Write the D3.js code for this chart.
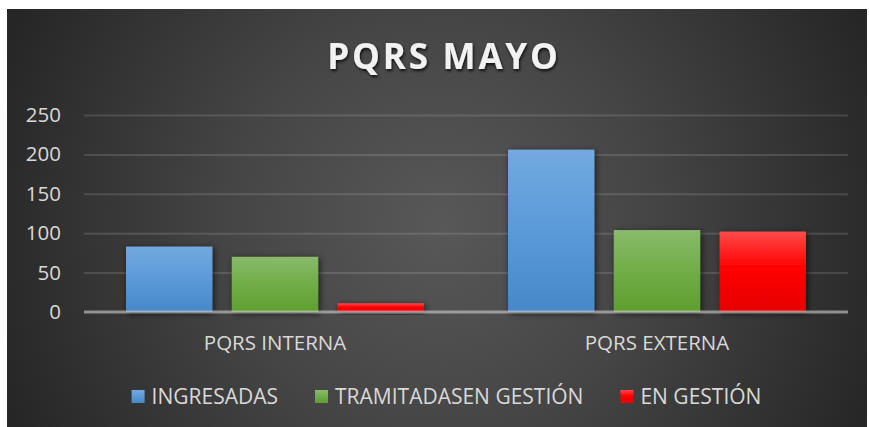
<!DOCTYPE html>
<html><head><meta charset="utf-8">
<script src="https://cdn.jsdelivr.net/npm/d3@7"></script>
<style>html,body{margin:0;padding:0;background:#fff;}svg{display:block;}</style>
</head><body>
<script>
const categories = ["PQRS INTERNA", "PQRS EXTERNA"];
const seriesNames = ["INGRESADAS", "TRAMITADASEN GESTIÓN", "EN GESTIÓN"];
const ingresadas = [83, 206];
const tramitadas = [70, 104];
const enGestion = [11, 102];
const yTicks = [0, 50, 100, 150, 200, 250];
const titleText = "PQRS MAYO";

const seriesValues = [ingresadas, tramitadas, enGestion];
const W = 869, H = 427;
const font = "'Open Sans', sans-serif";
const txtCol = "#d9d9d9";

const svg = d3.select("body").append("svg").attr("width", W).attr("height", H);
const defs = svg.append("defs");

// background gradient
const bg = defs.append("radialGradient").attr("id", "bg").attr("gradientUnits", "userSpaceOnUse")
  .attr("cx", 440).attr("cy", 225).attr("r", 470);
bg.append("stop").attr("offset", 0).attr("stop-color", "#585858");
bg.append("stop").attr("offset", 0.45).attr("stop-color", "#454545");
bg.append("stop").attr("offset", 1).attr("stop-color", "#262626");

const grads = [
  [["0", "#73a9df"], ["0.5", "#5a9ad9"], ["1", "#4688c8"]],
  [["0", "#89ba6b"], ["0.5", "#70ad47"], ["1", "#5f9e30"]],
  [["0", "#ff4a4a"], ["0.45", "#ff0000"], ["1", "#e60000"]]
];
grads.forEach((g, i) => {
  const lg = defs.append("linearGradient").attr("id", "g" + i).attr("x1", 0).attr("y1", 0).attr("x2", 0).attr("y2", 1);
  g.forEach(st => lg.append("stop").attr("offset", st[0]).attr("stop-color", st[1]));
});
const sh = defs.append("filter").attr("id", "sh").attr("x", "-30%").attr("y", "-30%").attr("width", "160%").attr("height", "160%");
sh.append("feDropShadow").attr("dx", 1.5).attr("dy", 1.5).attr("stdDeviation", 3).attr("flood-color", "#000").attr("flood-opacity", 0.65);
const tsh = defs.append("filter").attr("id", "tsh").attr("x", "-10%").attr("y", "-30%").attr("width", "120%").attr("height", "160%");
tsh.append("feDropShadow").attr("dx", 1).attr("dy", 2).attr("stdDeviation", 1.5).attr("flood-color", "#000").attr("flood-opacity", 0.8);

svg.append("rect").attr("x", 7).attr("y", 9).attr("width", 860).attr("height", 418).attr("fill", "url(#bg)");

const x0 = d3.scaleBand().domain(categories).range([84, 848]).paddingInner(0.22).paddingOuter(0.11);
const x1 = d3.scaleBand().domain(seriesNames).range([0, x0.bandwidth()]).paddingInner(0.184).paddingOuter(0);
const y = d3.scaleLinear().domain([0, 250]).range([312, 115]);

// title
svg.append("text").attr("x", 444).attr("y", 69).attr("text-anchor", "middle")
  .attr("font-family", font).attr("font-weight", 700).attr("font-size", 35)
  .attr("letter-spacing", 2.8).attr("fill", "#f2f2f2").attr("filter", "url(#tsh)").text(titleText);

// axis + grid
const yAxis = d3.axisLeft(y).tickValues(yTicks).tickSizeInner(-(848 - 84)).tickSizeOuter(0).tickPadding(23);
const ga = svg.append("g").attr("transform", "translate(84,0)").call(yAxis);
ga.select(".domain").remove();
ga.selectAll(".tick line").attr("stroke", "rgba(255,255,255,0.13)").attr("stroke-width", 2)
  .filter(d => d === 0).remove();
ga.selectAll(".tick text").attr("fill", txtCol).attr("font-family", font).attr("font-size", 20.5);

// bars
const groups = svg.append("g").selectAll("g").data(categories).join("g")
  .attr("transform", c => `translate(${x0(c)},0)`);
groups.selectAll("rect").data((c, ci) => seriesNames.map((s, si) => ({ s, si, v: seriesValues[si][ci] })))
  .join("rect")
  .attr("x", d => x1(d.s)).attr("width", x1.bandwidth())
  .attr("y", d => y(d.v)).attr("height", d => y(0) - y(d.v))
  .attr("fill", d => `url(#g${d.si})`).attr("filter", "url(#sh)");

// baseline
svg.append("line").attr("x1", 84).attr("x2", 848).attr("y1", y(0)).attr("y2", y(0))
  .attr("stroke", "#d0d0d0").attr("stroke-opacity", 0.6).attr("stroke-width", 3);

// category labels
svg.append("g").selectAll("text").data(categories).join("text")
  .attr("x", c => x0(c) + x0.bandwidth() / 2).attr("y", 350).attr("text-anchor", "middle")
  .attr("font-family", font).attr("font-size", 20.5).attr("fill", txtCol).text(c => c);

// legend
const lg = svg.append("g");
let cx = 0;
seriesNames.forEach((s, i) => {
  const it = lg.append("g").attr("transform", `translate(${cx},0)`);
  it.append("rect").attr("x", 0).attr("y", 390).attr("width", 13).attr("height", 13).attr("fill", `url(#g${i})`);
  const t = it.append("text").attr("x", 20).attr("y", 404).attr("font-family", font).attr("font-size", 21)
    .attr("fill", txtCol).text(s);
  cx += 20 + t.node().getComputedTextLength() + 37;
});
const totalW = cx - 37;
lg.attr("transform", `translate(${446.5 - totalW / 2},0)`);
</script>
</body></html>
